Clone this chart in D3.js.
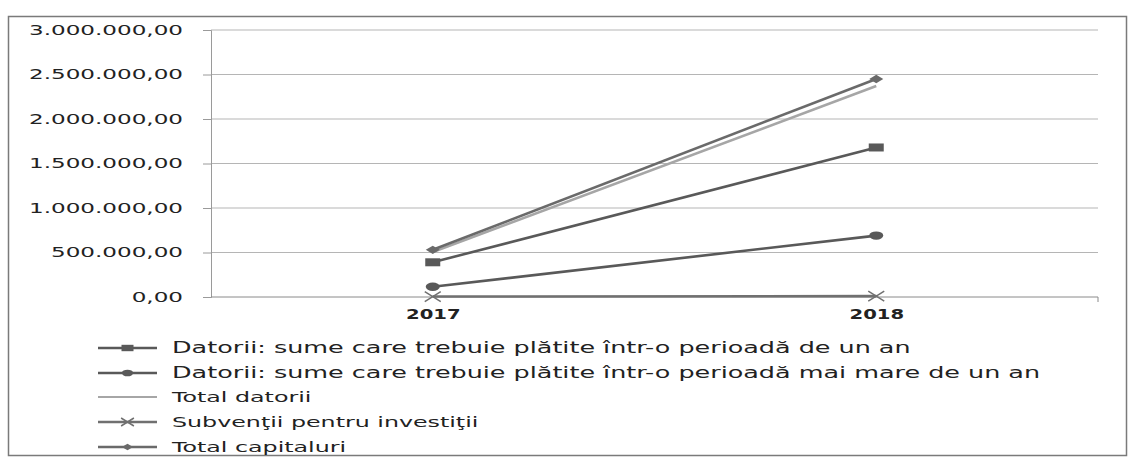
<!DOCTYPE html>
<html>
<head>
<meta charset="utf-8">
<script src="https://cdn.jsdelivr.net/npm/d3@7"></script>
<style>
  html, body { margin: 0; padding: 0; background: #fff; }
  svg { display: block; }
  text { font-family: "DejaVu Sans", Verdana, sans-serif; fill: #222; }
</style>
</head>
<body>
<svg id="chart" width="1132" height="460"></svg>
<script>
const categories = ["2017", "2018"];
const seriesNames = [
  "Datorii: sume care trebuie plătite într-o perioadă de un an",
  "Datorii: sume care trebuie plătite într-o perioadă mai mare de un an",
  "Total datorii",
  "Subvenţii pentru investiţii",
  "Total capitaluri"
];
const datoriiUnAn = [390000, 1680000];
const datoriiPesteUnAn = [115000, 690000];
const totalDatorii = [505000, 2370000];
const subventii = [5000, 10000];
const totalCapitaluri = [530000, 2450000];
const yTickValues = [0, 500000, 1000000, 1500000, 2000000, 2500000, 3000000];

const series = [
  { name: seriesNames[0], values: datoriiUnAn, color: "#595959", marker: "square" },
  { name: seriesNames[1], values: datoriiPesteUnAn, color: "#595959", marker: "circle" },
  { name: seriesNames[2], values: totalDatorii, color: "#a6a6a6", marker: "none" },
  { name: seriesNames[3], values: subventii, color: "#707070", marker: "x" },
  { name: seriesNames[4], values: totalCapitaluri, color: "#6a6a6a", marker: "diamond" }
];

const svg = d3.select("#chart");
const W = 1132, H = 460;
const plot = { left: 211, right: 1098, top: 30, bottom: 297 };

const ro = d3.formatLocale({ decimal: ",", thousands: ".", grouping: [3], currency: ["", " lei"] });
const fmt = ro.format(",.2f");

// outer frame
svg.append("rect")
  .attr("x", 8.5).attr("y", 16.5).attr("width", 1118).attr("height", 439)
  .attr("fill", "none").attr("stroke", "#7a7a7a").attr("stroke-width", 1.5);

const x = d3.scalePoint().domain(categories).range([plot.left, plot.right]).padding(0.5);
const y = d3.scaleLinear().domain([0, 3000000]).range([plot.bottom, plot.top]);

// gridlines
svg.append("g").selectAll("line").data(yTickValues.filter(v => v > 0)).join("line")
  .attr("x1", plot.left).attr("x2", plot.right)
  .attr("y1", d => y(d)).attr("y2", d => y(d))
  .attr("stroke", "#b5b5b5").attr("stroke-width", 1);

// y axis
const yAxis = d3.axisLeft(y).tickValues(yTickValues).tickFormat(fmt).tickSize(8).tickPadding(20);
const yg = svg.append("g").attr("transform", `translate(${plot.left},0)`).call(yAxis);
yg.select(".domain").attr("stroke", "#9a9a9a");
yg.selectAll(".tick line").attr("stroke", "#9a9a9a");
yg.selectAll(".tick text").attr("font-size", 14).attr("fill", "#222")
  .style("font-family", '"DejaVu Sans", Verdana, sans-serif');

// x axis
const xAxis = d3.axisBottom(x).tickSize(0).tickPadding(12);
const xg = svg.append("g").attr("transform", `translate(0,${plot.bottom})`).call(xAxis);
xg.select(".domain").attr("stroke", "#8a8a8a").attr("d", `M${plot.left},0H${plot.right}V5`);
xg.selectAll(".tick text").attr("font-size", 14).attr("font-weight", "bold").attr("fill", "#222")
  .style("font-family", '"DejaVu Sans", Verdana, sans-serif');

// horizontal stretch of text to match the wide scanned lettering
function stretch(sel, sx) {
  sel.each(function() {
    const t = d3.select(this);
    const tx = +t.attr("x") || 0;
    const ty = +t.attr("y") || 0;
    t.attr("x", 0).attr("y", 0)
      .attr("transform", `translate(${tx},${ty}) scale(${sx},1)`);
  });
}
{
  const lbl = yg.selectAll(".tick text").filter(d => d === 3000000).node();
  const sx = 154 / lbl.getComputedTextLength();
  stretch(yg.selectAll(".tick text"), sx);
  stretch(xg.selectAll(".tick text"), 1.4);
}

// lines
const line = d3.line().x((d, i) => x(categories[i])).y(d => y(d));
const lineG = svg.append("g");
series.forEach(s => {
  lineG.append("path").datum(s.values)
    .attr("d", line).attr("fill", "none")
    .attr("stroke", s.color).attr("stroke-width", 2.6);
});

function drawMarker(g, type, cx, cy, color, scale) {
  const k = scale || 1;
  if (type === "square") {
    g.append("rect").attr("x", cx - 7.5 * k).attr("y", cy - 4 * k)
      .attr("width", 15 * k).attr("height", 8 * k).attr("fill", color);
  } else if (type === "circle") {
    g.append("ellipse").attr("cx", cx).attr("cy", cy).attr("rx", 7 * k).attr("ry", 4.2 * k).attr("fill", color);
  } else if (type === "diamond") {
    g.append("path")
      .attr("d", `M${cx - 7 * k},${cy}L${cx},${cy - 4.2 * k}L${cx + 7 * k},${cy}L${cx},${cy + 4.2 * k}Z`)
      .attr("fill", color);
  } else if (type === "x") {
    g.append("path")
      .attr("d", `M${cx - 8 * k},${cy - 5 * k}L${cx + 8 * k},${cy + 5 * k}M${cx - 8 * k},${cy + 5 * k}L${cx + 8 * k},${cy - 5 * k}`)
      .attr("stroke", color).attr("stroke-width", 1.5).attr("fill", "none");
  }
}

const markG = svg.append("g");
series.forEach(s => {
  s.values.forEach((v, i) => drawMarker(markG, s.marker, x(categories[i]), y(v), s.color, 1));
});

// legend
const legendRows = [348, 373, 397, 422, 447];
const legendSizes = [15, 15, 14, 14, 14];
const legG = svg.append("g");
series.forEach((s, i) => {
  const ly = legendRows[i];
  legG.append("line").attr("x1", 98).attr("x2", 157).attr("y1", ly).attr("y2", ly)
    .attr("stroke", s.color).attr("stroke-width", s.marker === "none" ? 2 : 2.4);
  drawMarker(legG, s.marker, 127.5, ly, s.color, 0.8);
  legG.append("text").attr("class", "leg").attr("x", 172).attr("y", ly)
    .attr("dy", "0.36em").attr("font-size", legendSizes[i]).text(s.name);
});
{
  const first = legG.select("text.leg").node();
  const sx = 739 / first.getComputedTextLength();
  stretch(legG.selectAll("text.leg"), sx);
}
</script>
</body>
</html>
